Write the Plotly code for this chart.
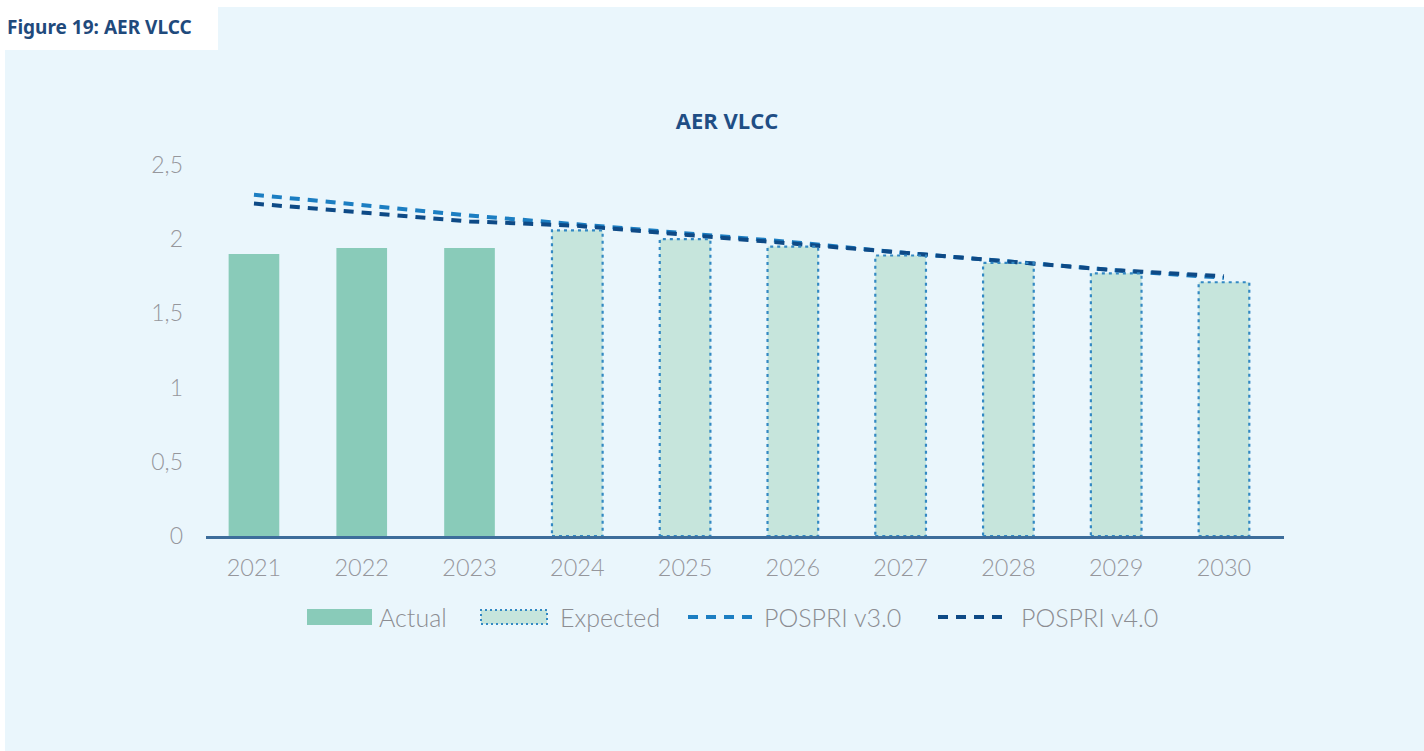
import plotly.graph_objects as go

# ---- data ----
years = [2021, 2022, 2023, 2024, 2025, 2026, 2027, 2028, 2029, 2030]
actual_years = [2021, 2022, 2023]
actual_vals = [1.90, 1.94, 1.94]
expected_years = [2024, 2025, 2026, 2027, 2028, 2029, 2030]
expected_vals = [2.06, 2.00, 1.95, 1.89, 1.84, 1.77, 1.71]
pospri_v3 = [2.30, 2.23, 2.16, 2.10, 2.04, 1.98, 1.91, 1.85, 1.79, 1.74]
pospri_v4 = [2.24, 2.18, 2.12, 2.09, 2.03, 1.97, 1.91, 1.85, 1.79, 1.75]
y_ticks = [0, 0.5, 1, 1.5, 2, 2.5]
y_tick_text = ["0", "0,5", "1", "1,5", "2", "2,5"]
legend_names = ["Actual", "Expected", "POSPRI v3.0", "POSPRI v4.0"]

# ---- style ----
PANEL = "#EAF6FC"
ACTUAL_C = "#89CBB9"
EXPECTED_FILL = "#C6E5DC"
EXPECTED_EDGE = "#3389C3"
V3_C = "#1C7EC2"
V4_C = "#0E4A86"
AXIS_C = "#3D6D9B"
TICK_C = "#96979C"
LEGEND_C = "#8C8D92"
TITLE_C = "#1F4E85"
BAR_W = 0.47
LINE_DASH = "10px,8px"
EDGE_DASH = "3px,4px"
TEXT_FONT = dict(family="Lato", weight=300)

W, H = 1424, 751
L, R, T, B = 206, 140, 165, 215
PW, PH = W - L - R, H - T - B


def px_x(p):
    return (p - L) / PW


def px_y(p):
    return (H - B - p) / PH


fig = go.Figure()

fig.add_trace(go.Bar(
    x=actual_years, y=actual_vals, name=legend_names[0], width=BAR_W,
    marker=dict(color=ACTUAL_C, line=dict(width=0)),
))
fig.add_trace(go.Bar(
    x=expected_years, y=expected_vals, name=legend_names[1], width=BAR_W,
    marker=dict(color=EXPECTED_FILL, line=dict(width=0)),
))
fig.add_trace(go.Scatter(
    x=years, y=pospri_v3, name=legend_names[2], mode="lines",
    line=dict(color=V3_C, width=4, dash=LINE_DASH),
))
fig.add_trace(go.Scatter(
    x=years, y=pospri_v4, name=legend_names[3], mode="lines",
    line=dict(color=V4_C, width=4, dash=LINE_DASH),
))

shapes = []
# dotted outlines of the expected bars
for yr, v in zip(expected_years, expected_vals):
    shapes.append(dict(
        type="rect", xref="x", yref="y",
        x0=yr - BAR_W / 2, x1=yr + BAR_W / 2, y0=0, y1=v,
        line=dict(color=EXPECTED_EDGE, width=2.2, dash=EDGE_DASH),
        fillcolor="rgba(0,0,0,0)", layer="above",
    ))
# white page margins around the panel and header tab
for x0, x1, y0, y1 in [(0, W, 0, 7), (0, 5, 0, H), (0, 218, 0, 50)]:
    shapes.append(dict(
        type="rect", xref="paper", yref="paper",
        x0=px_x(x0), x1=px_x(x1), y0=px_y(y0), y1=px_y(y1),
        fillcolor="white", line=dict(width=0), layer="above",
    ))

# legend row: wide swatches followed by labels
LEG_Y = 617
swatch_x = [(307, 372), (481, 547), (688, 752), (938, 1002)]
label_x = [377, 558, 762, 1019]
shapes.append(dict(
    type="rect", xref="paper", yref="paper",
    x0=px_x(swatch_x[0][0]), x1=px_x(swatch_x[0][1]),
    y0=px_y(LEG_Y + 8), y1=px_y(LEG_Y - 8),
    fillcolor=ACTUAL_C, line=dict(width=0),
))
shapes.append(dict(
    type="rect", xref="paper", yref="paper",
    x0=px_x(swatch_x[1][0]), x1=px_x(swatch_x[1][1]),
    y0=px_y(LEG_Y + 7), y1=px_y(LEG_Y - 7),
    fillcolor=EXPECTED_FILL, line=dict(color=EXPECTED_EDGE, width=2, dash="2px,3px"),
))
for (sx0, sx1), col in zip(swatch_x[2:], [V3_C, V4_C]):
    shapes.append(dict(
        type="line", xref="paper", yref="paper",
        x0=px_x(sx0), x1=px_x(sx1), y0=px_y(LEG_Y), y1=px_y(LEG_Y),
        line=dict(color=col, width=4, dash=LINE_DASH),
    ))

annotations = [dict(
    text="<b>Figure 19: AER VLCC</b>", xref="paper", yref="paper",
    x=px_x(5), y=px_y(27), xanchor="left", yanchor="middle", showarrow=False,
    font=dict(family="Noto Sans", size=19, color="#1F4A7C"),
)]
for name, lx in zip(legend_names, label_x):
    annotations.append(dict(
        text=name, xref="paper", yref="paper",
        x=px_x(lx), y=px_y(LEG_Y), xanchor="left", yanchor="middle",
        showarrow=False, font=dict(size=25, color=LEGEND_C, **TEXT_FONT),
    ))

fig.update_layout(
    width=W, height=H,
    margin=dict(l=L, r=R, t=T, b=B, pad=0),
    paper_bgcolor=PANEL, plot_bgcolor=PANEL,
    barmode="overlay",
    separators=",.",
    showlegend=False,
    font=dict(color=TICK_C, **TEXT_FONT),
    title=dict(
        text="<b>AER VLCC</b>", x=727 / W, xref="container", xanchor="center",
        y=1 - 121 / H, yref="container", yanchor="middle",
        font=dict(family="Open Sans", size=22, color=TITLE_C),
    ),
    xaxis=dict(
        range=[2020.555, 2030.557], tickvals=years, ticktext=[str(y) for y in years],
        showgrid=False, zeroline=False, showline=True, linecolor=AXIS_C, linewidth=2.5,
        ticks="", tickfont=dict(size=23.5, color=TICK_C, **TEXT_FONT),
        ticklabelstandoff=9,
    ),
    yaxis=dict(
        range=[0, 2.5], tickvals=y_ticks, ticktext=y_tick_text,
        showgrid=False, zeroline=False, showline=False, ticks="",
        tickfont=dict(size=23, color=TICK_C, **TEXT_FONT),
        ticklabelstandoff=22,
    ),
    shapes=shapes,
    annotations=annotations,
)

fig.write_html("out.html")
